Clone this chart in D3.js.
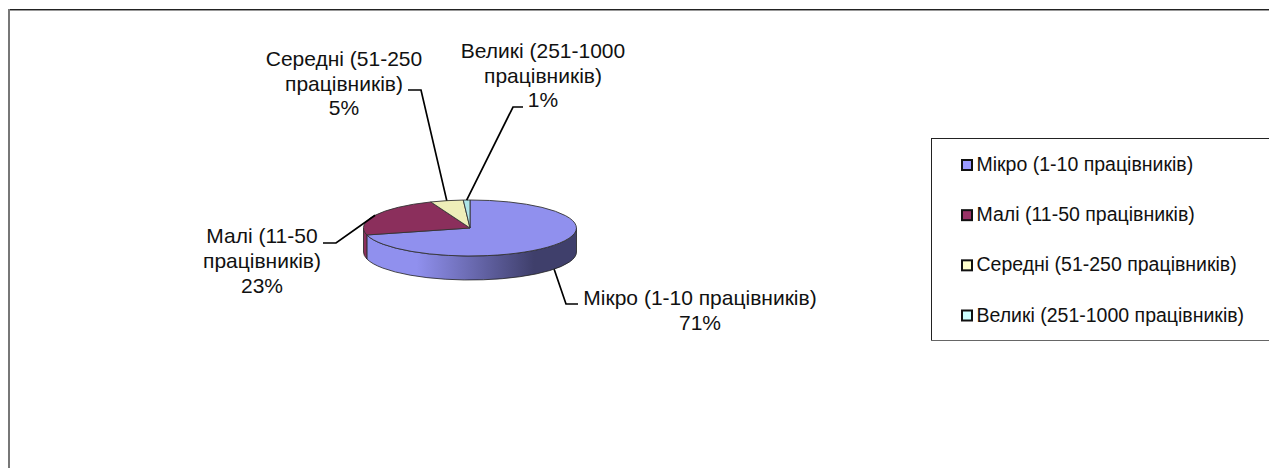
<!DOCTYPE html>
<html>
<head>
<meta charset="utf-8">
<script src="https://cdn.jsdelivr.net/npm/d3@7"></script>
<style>
  body { margin: 0; background: #fff; overflow: hidden; }
  text { font-family: "Liberation Sans", Arial, sans-serif; fill: #111; }
</style>
</head>
<body>
<div id="container"></div>
<script>
/* DATA */
const categories = ["Мікро (1-10 працівників)", "Малі (11-50 працівників)", "Середні (51-250 працівників)", "Великі (251-1000 працівників)"];
const shares = [71, 23, 5, 1];
const sliceColors = ["#9090ee", "#8b2f5c", "#eeeeb9", "#aee6e8"];
const legendColors = ["#9999ff", "#993366", "#ffffcc", "#ccffff"];
const labelLines = [
  ["Мікро (1-10 працівників)", "71%"],
  ["Малі (11-50", "працівників)", "23%"],
  ["Середні (51-250", "працівників)", "5%"],
  ["Великі (251-1000", "працівників)", "1%"]
];

/* LAYOUT */
const width = 1269;
const height = 468;
const cx = 470, cy = 228, rx = 106.5, ry = 28, depth = 24;
const labelPos = [
  { x: 700, y: 305, lineH: 25, from: [578, 304], elbow: [566, 304] },
  { x: 262, y: 243, lineH: 25, from: [323, 243], elbow: [336, 243] },
  { x: 344, y: 66, lineH: 24.5, from: [408, 90], elbow: [421, 90] },
  { x: 543, y: 58, lineH: 24.5, from: [523, 107], elbow: [513, 107] }
];

const svg = d3.select("#container").append("svg")
  .attr("width", width)
  .attr("height", height)
  .style("display", "block");

const defs = svg.append("defs");
const wallGrad = defs.append("linearGradient")
  .attr("id", "wallBlue")
  .attr("gradientUnits", "userSpaceOnUse")
  .attr("x1", cx - rx).attr("x2", cx + rx)
  .attr("y1", 0).attr("y2", 0);
[[0, "#9090ee"], [0.25, "#9090ee"], [0.8, "#3f3f6b"], [1, "#3f3f6b"]].forEach(s => {
  wallGrad.append("stop").attr("offset", s[0]).attr("stop-color", s[1]);
});

/* outer frame, runs off the page right and bottom */
svg.append("line").attr("x1", 8.5).attr("x2", width).attr("y1", 10.5).attr("y2", 10.5).attr("stroke", "#999").attr("stroke-width", 1);
svg.append("line").attr("x1", 8).attr("x2", width).attr("y1", 9.5).attr("y2", 9.5).attr("stroke", "#222").attr("stroke-width", 1);
svg.append("line").attr("x1", 9).attr("x2", 9).attr("y1", 9).attr("y2", height).attr("stroke", "#777").attr("stroke-width", 2);

/* PIE */
const TAU = Math.PI * 2;
const pie = d3.pie().sort(null).value(d => d);
const slices = pie(shares);
const arc = d3.arc().innerRadius(0).outerRadius(1);
const onRim = a => [cx + rx * Math.sin(a), cy - ry * Math.cos(a)];

// side wall, only the front half of the ellipse is seen
function wallPath(d) {
  const a0 = Math.max(d.startAngle, TAU / 4);
  const a1 = Math.min(d.endAngle, TAU * 3 / 4);
  if (a1 <= a0) return null;
  const p0 = onRim(a0), p1 = onRim(a1);
  return `M${p0}A${rx},${ry} 0 0 1 ${p1}L${p1[0]},${p1[1] + depth}A${rx},${ry} 0 0 0 ${p0[0]},${p0[1] + depth}Z`;
}

svg.append("g").selectAll("path")
  .data(slices.filter(d => wallPath(d)))
  .join("path")
  .attr("d", wallPath)
  .attr("fill", d => d.index === 0 ? "url(#wallBlue)" : sliceColors[d.index])
  .attr("stroke", "#222")
  .attr("stroke-width", 0.8);

svg.append("g")
  .attr("transform", `translate(${cx},${cy}) scale(${rx},${ry})`)
  .selectAll("path")
  .data(slices)
  .join("path")
  .attr("d", arc)
  .attr("fill", (d, i) => sliceColors[i])
  .attr("stroke", "#333")
  .attr("stroke-width", 0.9)
  .attr("vector-effect", "non-scaling-stroke");

/* LEADERS AND LABELS */
svg.append("g").selectAll("path")
  .data(slices)
  .join("path")
  .attr("d", d => {
    const mid = (d.startAngle + d.endAngle) / 2;
    const p = onRim(mid);
    // the leader of a front slice ends on the bottom of the wall
    if (Math.cos(mid) < 0) p[1] += depth;
    const l = labelPos[d.index];
    return `M${l.from}L${l.elbow}L${p}`;
  })
  .attr("fill", "none")
  .attr("stroke", "#000")
  .attr("stroke-width", 1.7);

labelLines.forEach((lines, i) => {
  const l = labelPos[i];
  svg.append("text")
    .attr("text-anchor", "middle")
    .style("font-size", "21px")
    .selectAll("tspan")
    .data(lines)
    .join("tspan")
    .attr("x", l.x)
    .attr("y", (d, j) => l.y + j * l.lineH)
    .text(d => d);
});

/* LEGEND */
const legendY = d3.scalePoint().domain(categories).range([165, 315.5]);
svg.append("rect")
  .attr("x", 931.5).attr("y", 138.5)
  .attr("width", width).attr("height", 202)
  .attr("fill", "#fff")
  .attr("stroke", "#222");
svg.append("line").attr("x1", 931).attr("x2", width).attr("y1", 340.5).attr("y2", 340.5).attr("stroke", "#666");

const legend = svg.append("g").selectAll("g")
  .data(categories)
  .join("g")
  .attr("transform", d => `translate(961,${legendY(d)})`);

legend.append("rect")
  .attr("x", 1).attr("y", -5)
  .attr("width", 10).attr("height", 10)
  .attr("fill", (d, i) => legendColors[i])
  .attr("stroke", "#111")
  .attr("stroke-width", 2);

legend.append("text")
  .attr("x", 15.5)
  .attr("y", 6)
  .style("font-size", "19.5px")
  .text(d => d);
</script>
</body>
</html>
